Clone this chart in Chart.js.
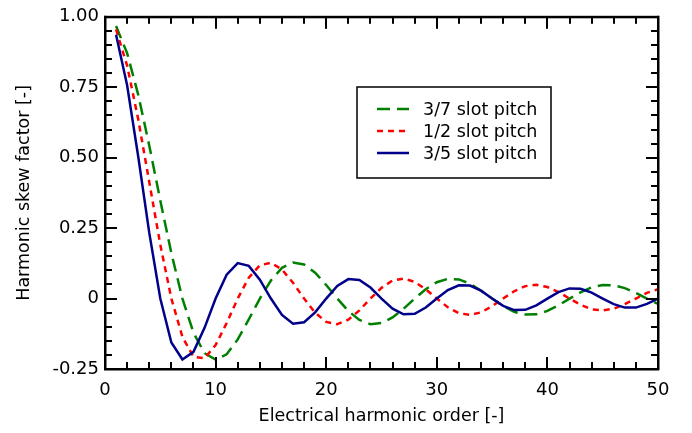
<!DOCTYPE html>
<html>
<head>
<meta charset="utf-8">
<script src="https://cdn.jsdelivr.net/npm/chart.js@4.4.1/dist/chart.umd.min.js"></script>
<style>
  html, body { margin: 0; padding: 0; background: #fff; }
</style>
</head>
<body>
<canvas id="chart-area" width="692" height="433"></canvas>
<script>
// harmonic orders on the x axis
var harmonics = [1, 2, 3, 4, 5, 6, 7, 8, 9, 10, 11, 12, 13, 14, 15, 16, 17, 18, 19, 20,
    21, 22, 23, 24, 25, 26, 27, 28, 29, 30, 31, 32, 33, 34, 35, 36, 37, 38, 39, 40,
    41, 42, 43, 44, 45, 46, 47, 48, 49, 50];

// skew factor
var skew37 = [0.967, 0.871, 0.724, 0.543, 0.348, 0.161, 0, -0.121, -0.194, -0.217,
    -0.198, -0.145, -0.074, 0, 0.064, 0.109, 0.128, 0.121, 0.092, 0.048,
    0, -0.044, -0.076, -0.091, -0.087, -0.067, -0.036, 0, 0.033, 0.058,
    0.070, 0.068, 0.053, 0.028, 0, -0.027, -0.047, -0.057, -0.056, -0.044,
    -0.024, 0, 0.022, 0.040, 0.048, 0.047, 0.037, 0.020, 0, -0.019];
var skew12 = [0.955, 0.827, 0.637, 0.414, 0.191, 0, -0.136, -0.207, -0.212, -0.165,
    -0.087, 0, 0.074, 0.118, 0.127, 0.103, 0.056, 0, -0.050, -0.083,
    -0.091, -0.075, -0.042, 0, 0.038, 0.064, 0.071, 0.059, 0.033, 0,
    -0.031, -0.052, -0.058, -0.049, -0.027, 0, 0.026, 0.044, 0.049, 0.041,
    0.023, 0, -0.022, -0.038, -0.042, -0.036, -0.020, 0, 0.020, 0.033];
var skew35 = [0.936, 0.757, 0.505, 0.234, 0, -0.156, -0.216, -0.189, -0.104, 0,
    0.085, 0.126, 0.116, 0.067, 0, -0.058, -0.089, -0.084, -0.049, 0,
    0.045, 0.069, 0.066, 0.039, 0, -0.036, -0.056, -0.054, -0.032, 0,
    0.030, 0.047, 0.046, 0.028, 0, -0.026, -0.041, -0.040, -0.024, 0,
    0.023, 0.036, 0.035, 0.021, 0, -0.020, -0.032, -0.032, -0.019, 0];

var seriesNames = ['3/7 slot pitch', '1/2 slot pitch', '3/5 slot pitch'];
var xTicks = [0, 10, 20, 30, 40, 50];
var yTicks = [-0.25, 0, 0.25, 0.5, 0.75, 1];

var FONT = '"DejaVu Sans", sans-serif';

function points(ys) {
    return harmonics.map(function (h, i) { return { x: h, y: ys[i] }; });
}

function seg(ctx, x1, y1, x2, y2) {
    ctx.beginPath();
    ctx.moveTo(x1, y1);
    ctx.lineTo(x2, y2);
    ctx.stroke();
}

// frame with inward ticks on all four sides, plus the boxed legend
var framePlugin = {
    id: 'frameTicks',
    afterDraw: function (chart) {
        var ctx = chart.ctx, a = chart.chartArea;
        var xs = chart.scales.x, ys = chart.scales.y;
        var w = a.right - a.left, h = a.bottom - a.top;
        ctx.save();
        ctx.setTransform(1, 0, 0, 1, 0, 0);
        ctx.globalAlpha = 1;
        ctx.globalCompositeOperation = 'source-over';
        ctx.fillStyle = '#000';
        for (var i = 0; i <= 25; i++) {
            var px = xs.getPixelForValue(i * 2);
            if (!isFinite(px) || px < a.left - 1 || px > a.right + 1) px = a.left + w * i / 25;
            px = Math.round(px);
            var len = (i % 5 === 0) ? 12 : 7;
            ctx.fillRect(px - 1, a.bottom - len, 2, len);
            ctx.fillRect(px - 1, a.top, 2, len);
        }
        for (var j = 0; j <= 25; j++) {
            var py = ys.getPixelForValue(-0.25 + j * 0.05);
            if (!isFinite(py) || py < a.top - 1 || py > a.bottom + 1) py = a.bottom - h * j / 25;
            py = Math.round(py);
            var l2 = (j % 5 === 0) ? 12 : 7;
            ctx.fillRect(a.left, py - 1, l2, 2);
            ctx.fillRect(a.right - l2, py - 1, l2, 2);
        }
        // frame
        ctx.fillRect(a.left - 1, a.top - 1, w + 2, 2.5);
        ctx.fillRect(a.left - 1, a.bottom - 1, w + 2, 2.5);
        ctx.fillRect(a.left - 1, a.top - 1, 2.5, h + 2);
        ctx.fillRect(a.right - 1, a.top - 1, 2.5, h + 2);

        var bx = 357, by = 87, bw = 194, bh = 91;
        ctx.fillStyle = '#fff';
        ctx.fillRect(bx, by, bw, bh);
        ctx.setLineDash([]);
        ctx.strokeStyle = '#000';
        ctx.lineWidth = 1.5;
        ctx.strokeRect(bx, by, bw, bh);
        ctx.font = '17.5px ' + FONT;
        ctx.textBaseline = 'middle';
        ctx.textAlign = 'left';
        chart.data.datasets.forEach(function (ds, k) {
            var y = 109 + k * 22;
            ctx.strokeStyle = ds.borderColor;
            ctx.lineWidth = ds.borderWidth;
            ctx.setLineDash(ds.borderDash || []);
            seg(ctx, 377, y, 409, y);
            ctx.setLineDash([]);
            ctx.fillStyle = '#000';
            ctx.fillText(ds.label, 423, y + 1);
        });
        ctx.restore();
    }
};

var config = {
    type: 'line',
    data: {
        datasets: [{
            label: seriesNames[0],
            data: points(skew37),
            borderColor: '#008000',
            borderWidth: 2.5,
            borderDash: [13, 7],
            order: 2
        }, {
            label: seriesNames[1],
            data: points(skew12),
            borderColor: '#ff0000',
            borderWidth: 2.5,
            borderDash: [6, 5],
            order: 1
        }, {
            label: seriesNames[2],
            data: points(skew35),
            borderColor: '#00008b',
            borderWidth: 2.5,
            order: 0
        }]
    },
    options: {
        responsive: false,
        animation: false,
        devicePixelRatio: 1,
        elements: { point: { radius: 0 }, line: { tension: 0, fill: false } },
        layout: { padding: { left: 0, right: 34, top: 12, bottom: 0 } },
        plugins: { legend: { display: false }, tooltip: { enabled: false } },
        scales: {
            x: {
                type: 'linear',
                min: 0,
                max: 50,
                afterBuildTicks: function (s) { s.ticks = xTicks.map(function (v) { return { value: v }; }); },
                afterFit: function (s) { s.height = 64; },
                grid: { display: false, drawTicks: false },
                border: { display: false },
                ticks: { color: '#000', font: { family: FONT, size: 18 }, padding: 11, maxRotation: 0 },
                title: {
                    display: true,
                    text: 'Electrical harmonic order [-]',
                    color: '#000',
                    font: { family: FONT, size: 17.5 },
                    padding: { top: 0, bottom: 6 }
                }
            },
            y: {
                type: 'linear',
                min: -0.25,
                max: 1,
                afterBuildTicks: function (s) { s.ticks = yTicks.map(function (v) { return { value: v }; }); },
                afterFit: function (s) { s.width = 105; },
                grid: { display: false, drawTicks: false },
                border: { display: false },
                ticks: {
                    color: '#000',
                    font: { family: FONT, size: 18 },
                    padding: 6,
                    callback: function (v) { return v === 0 ? '0' : v.toFixed(2); }
                },
                title: {
                    display: true,
                    text: 'Harmonic skew factor [-]',
                    color: '#000',
                    font: { family: FONT, size: 17.5 },
                    padding: { top: 13.5, bottom: 0 }
                }
            }
        }
    },
    plugins: [framePlugin]
};

new Chart(document.getElementById('chart-area').getContext('2d'), config);
</script>
</body>
</html>
